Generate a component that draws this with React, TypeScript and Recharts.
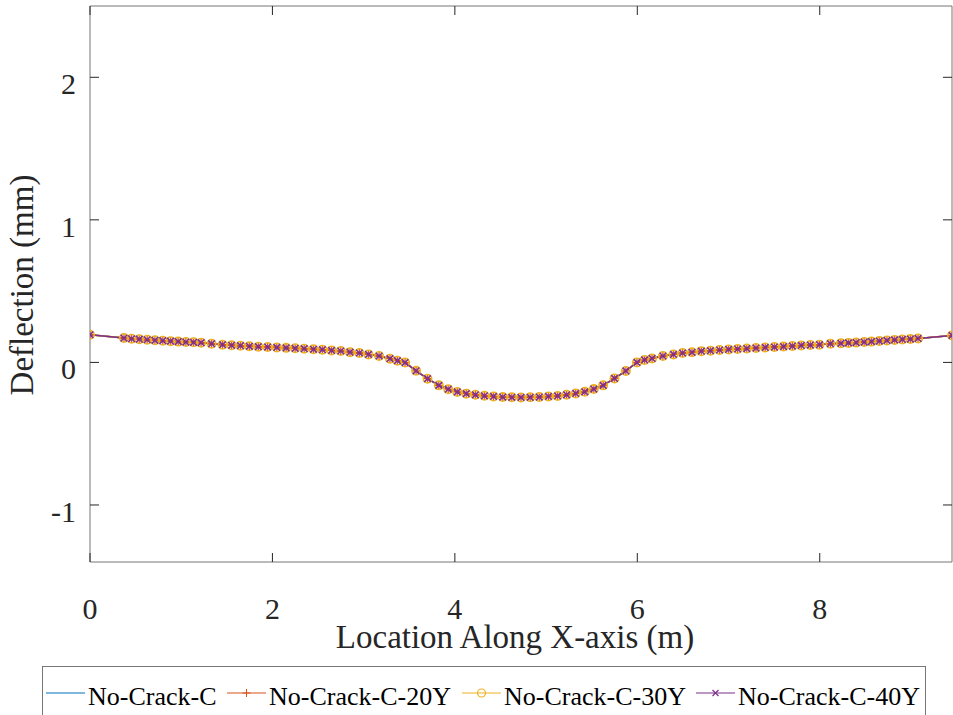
import { LineChart, Line, XAxis, YAxis, ReferenceArea } from 'recharts'

// node positions along the beam (m)
const locations = [
  0, 0.372, 0.456, 0.54, 0.627, 0.712, 0.798, 0.883, 0.967, 1.051, 1.135, 1.218, 1.333, 1.453,
  1.552, 1.65, 1.747, 1.845, 1.947, 2.048, 2.15, 2.249, 2.348, 2.45, 2.548, 2.648, 2.749, 2.85,
  2.953, 3.053, 3.169, 3.288, 3.37, 3.454, 3.575, 3.7, 3.824, 3.927, 4.026, 4.125, 4.225, 4.324,
  4.424, 4.525, 4.624, 4.725, 4.826, 4.925, 5.026, 5.126, 5.225, 5.325, 5.424, 5.523, 5.626,
  5.75, 5.875, 5.996, 6.08, 6.162, 6.281, 6.397, 6.497, 6.6, 6.702, 6.802, 6.902, 7.001, 7.1,
  7.2, 7.301, 7.403, 7.503, 7.603, 7.7, 7.798, 7.897, 7.997, 8.117, 8.232, 8.315, 8.399, 8.487,
  8.567, 8.653, 8.737, 8.821, 8.906, 8.994, 9.078, 9.45,
]

// deflection (mm) - the four cases overlap almost exactly in the figure
const noCrackC = [
  0.194, 0.171, 0.166, 0.163, 0.159, 0.155, 0.152, 0.149, 0.146, 0.143, 0.141, 0.138, 0.131,
  0.124, 0.12, 0.117, 0.113, 0.11, 0.108, 0.105, 0.102, 0.099, 0.096, 0.092, 0.089, 0.084, 0.08,
  0.072, 0.066, 0.056, 0.045, 0.026, 0.012, -0.001, -0.059, -0.114, -0.161, -0.188, -0.207,
  -0.219, -0.227, -0.234, -0.239, -0.243, -0.245, -0.246, -0.245, -0.243, -0.239, -0.235,
  -0.227, -0.218, -0.206, -0.187, -0.161, -0.112, -0.06, 0.0, 0.017, 0.028, 0.045, 0.056, 0.066,
  0.071, 0.079, 0.082, 0.087, 0.091, 0.094, 0.097, 0.101, 0.105, 0.108, 0.111, 0.115, 0.119,
  0.122, 0.124, 0.131, 0.134, 0.137, 0.139, 0.143, 0.146, 0.15, 0.154, 0.158, 0.161, 0.164,
  0.168, 0.189,
]
const noCrackC20Y = noCrackC
const noCrackC30Y = noCrackC
const noCrackC40Y = noCrackC

const xTicks = [0, 2, 4, 6, 8]
const yTicks = [-1, 0, 1, 2]
const seriesNames = ['No-Crack-C', 'No-Crack-C-20Y', 'No-Crack-C-30Y', 'No-Crack-C-40Y']

const data = locations.map((x, i) => ({
  x,
  c: noCrackC[i],
  c20: noCrackC20Y[i],
  c30: noCrackC30Y[i],
  c40: noCrackC40Y[i],
}))

const FONT = "'Liberation Serif', 'Times New Roman', serif"
const INK = '#262626'
const PLOT_TOP = 6
const PLOT_BOTTOM = 562
const PLOT_LEFT = 90
const PLOT_RIGHT = 952

const BLUE = '#0072BD'
const ORANGE = '#D95319'
const YELLOW = '#EDB120'
const PURPLE = '#7E2F8E'

const XTick = (props: any) => {
  const { x, payload } = props
  return (
    <g>
      <line x1={x} x2={x} y1={PLOT_BOTTOM} y2={PLOT_BOTTOM - 9} stroke={INK} />
      <line x1={x} x2={x} y1={PLOT_TOP} y2={PLOT_TOP + 9} stroke={INK} />
      <text x={x} y={619} textAnchor='middle' fontSize={30} fontFamily={FONT} fill={INK}>
        {payload.value}
      </text>
    </g>
  )
}

const YTick = (props: any) => {
  const { y, payload } = props
  return (
    <g>
      <line x1={PLOT_LEFT} x2={PLOT_LEFT + 9} y1={y} y2={y} stroke={INK} />
      <line x1={PLOT_RIGHT} x2={PLOT_RIGHT - 9} y1={y} y2={y} stroke={INK} />
      <text x={76} y={y + 17} textAnchor='end' fontSize={30} fontFamily={FONT} fill={INK}>
        {payload.value}
      </text>
    </g>
  )
}

const XTitle = () => (
  <text x={515} y={648} textAnchor='middle' fontSize={33} fontFamily={FONT} fill={INK}>
    Location Along X-axis (m)
  </text>
)

const YTitle = () => (
  <text
    x={33}
    y={285}
    transform='rotate(-90, 33, 285)'
    textAnchor='middle'
    fontSize={33}
    fontFamily={FONT}
    fill={INK}
  >
    Deflection (mm)
  </text>
)

const plusDot = (p: any) => (
  <path
    key={`p${p.index}`}
    d={`M${p.cx - 4},${p.cy}H${p.cx + 4}M${p.cx},${p.cy - 4}V${p.cy + 4}`}
    stroke={ORANGE}
    strokeWidth={1.3}
    fill='none'
  />
)

const circleDot = (p: any) => (
  <circle key={`o${p.index}`} cx={p.cx} cy={p.cy} r={4.2} stroke={YELLOW} strokeWidth={1.6} fill='none' />
)

const crossDot = (p: any) => (
  <path
    key={`x${p.index}`}
    d={`M${p.cx - 3.3},${p.cy - 3.3}L${p.cx + 3.3},${p.cy + 3.3}M${p.cx - 3.3},${p.cy + 3.3}L${p.cx + 3.3},${p.cy - 3.3}`}
    stroke={PURPLE}
    strokeWidth={1.6}
    fill='none'
  />
)

const legendItems = [
  { name: seriesNames[0], color: BLUE, marker: 'none', lineX: 46 },
  { name: seriesNames[1], color: ORANGE, marker: 'plus', lineX: 227 },
  { name: seriesNames[2], color: YELLOW, marker: 'circle', lineX: 462 },
  { name: seriesNames[3], color: PURPLE, marker: 'cross', lineX: 696 },
]

const ChartLegend = () => (
  <svg
    width={953}
    height={715}
    style={{ position: 'absolute', left: 0, top: 0, pointerEvents: 'none' }}
  >
    <rect x={42.5} y={666.5} width={883} height={70} fill='#fff' stroke='#777' />
    {legendItems.map((it) => {
      const cx = it.lineX + 19.5
      const cy = 693
      return (
        <g key={it.name}>
          <line x1={it.lineX} x2={it.lineX + 39} y1={cy} y2={cy} stroke={it.color} strokeWidth={1.2} />
          {it.marker === 'plus' && (
            <path d={`M${cx - 4},${cy}H${cx + 4}M${cx},${cy - 4}V${cy + 4}`} stroke={it.color} />
          )}
          {it.marker === 'circle' && (
            <circle cx={cx} cy={cy} r={4} stroke={it.color} fill='none' strokeWidth={1.2} />
          )}
          {it.marker === 'cross' && (
            <path
              d={`M${cx - 3},${cy - 3}L${cx + 3},${cy + 3}M${cx - 3},${cy + 3}L${cx + 3},${cy - 3}`}
              stroke={it.color}
              strokeWidth={1.2}
            />
          )}
          <text x={it.lineX + 42} y={705} fontSize={26} fontFamily={FONT} fill='#000'>
            {it.name}
          </text>
        </g>
      )
    })}
  </svg>
)

export default function App() {
  return (
    <div
      style={{
        position: 'absolute',
        left: 0,
        top: 0,
        width: 953,
        height: 715,
        background: '#fff',
        overflow: 'hidden',
      }}
    >
      <LineChart
        width={953}
        height={715}
        data={data}
        margin={{ top: PLOT_TOP, right: 953 - PLOT_RIGHT, bottom: 0, left: 0 }}
      >
        <XAxis
          type='number'
          dataKey='x'
          domain={[0, 9.45]}
          ticks={xTicks}
          height={153}
          axisLine={false}
          tickLine={false}
          tick={<XTick />}
          label={<XTitle />}
          allowDataOverflow
        />
        <YAxis
          type='number'
          domain={[-1.4, 2.5]}
          ticks={yTicks}
          width={90}
          axisLine={false}
          tickLine={false}
          tick={<YTick />}
          label={<YTitle />}
          allowDataOverflow
        />
        <ReferenceArea
          x1={0}
          x2={9.45}
          y1={-1.4}
          y2={2.5}
          fill='none'
          fillOpacity={0}
          stroke='#777'
          strokeWidth={1}
          ifOverflow='visible'
        />
        <Line
          dataKey='c'
          name={seriesNames[0]}
          stroke={BLUE}
          strokeWidth={1.5}
          dot={false}
          activeDot={false}
          isAnimationActive={false}
        />
        <Line
          dataKey='c20'
          name={seriesNames[1]}
          stroke={ORANGE}
          strokeWidth={1.5}
          dot={plusDot}
          activeDot={false}
          isAnimationActive={false}
        />
        <Line
          dataKey='c30'
          name={seriesNames[2]}
          stroke={YELLOW}
          strokeWidth={1.5}
          dot={circleDot}
          activeDot={false}
          isAnimationActive={false}
        />
        <Line
          dataKey='c40'
          name={seriesNames[3]}
          stroke={PURPLE}
          strokeWidth={1.5}
          dot={crossDot}
          activeDot={false}
          isAnimationActive={false}
        />
      </LineChart>
      <ChartLegend />
    </div>
  )
}
